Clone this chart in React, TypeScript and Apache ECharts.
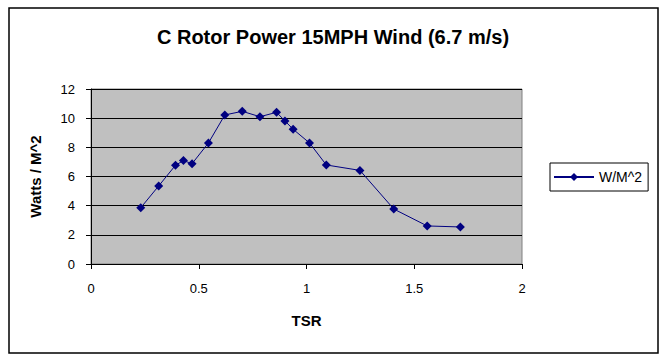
import React, { useEffect, useRef } from "react";
import * as echarts from "echarts";

const tsr = [0.231, 0.314, 0.392, 0.429, 0.469, 0.545, 0.621, 0.702, 0.784, 0.861, 0.9, 0.938, 1.014, 1.092, 1.248, 1.405, 1.56, 1.714];
const power = [3.86, 5.35, 6.77, 7.09, 6.88, 8.3, 10.22, 10.47, 10.1, 10.4, 9.81, 9.24, 8.3, 6.79, 6.42, 3.77, 2.61, 2.54];
const seriesName = "W/M^2";
const titleText = "C Rotor Power 15MPH Wind (6.7 m/s)";
const xName = "TSR";
const yName = "Watts / M^2";

const FONT = "'Liberation Sans', Arial, sans-serif";

export default function App() {
  const ref = useRef<HTMLDivElement>(null);
  useEffect(() => {
    document.body.style.margin = "0";
    if (!ref.current) return;
    const chart = echarts.init(ref.current, null, { renderer: "svg" });
    chart.setOption({
      animation: false,
      backgroundColor: "#ffffff",
      title: {
        text: titleText,
        left: "center",
        top: 22,
        textStyle: { fontFamily: FONT, fontSize: 20, fontWeight: "bold", color: "#000" },
      },
      graphic: [
        {
          type: "rect",
          shape: { x: 9, y: 8, width: 649, height: 345 },
          style: { fill: "none", stroke: "#000", lineWidth: 1.5 },
          silent: true,
        },
      ],
      legend: {
        orient: "vertical",
        left: 550,
        top: 163,
        padding: [7, 6, 7, 3],
        borderColor: "#000",
        borderWidth: 1,
        itemWidth: 40,
        itemHeight: 10,
        itemGap: 0,
        textStyle: { fontFamily: FONT, fontSize: 14, color: "#000" },
        data: [seriesName],
      },
      grid: {
        left: 91,
        top: 89,
        width: 431,
        height: 175,
        show: true,
        backgroundColor: "#c0c0c0",
        borderColor: "#808080",
        borderWidth: 1,
      },
      xAxis: {
        type: "value",
        min: 0,
        max: 2,
        interval: 0.5,
        name: xName,
        nameLocation: "middle",
        nameGap: 49,
        nameTextStyle: { fontFamily: FONT, fontSize: 15, fontWeight: "bold", color: "#000" },
        axisLine: { show: true, lineStyle: { color: "#000", width: 1 } },
        axisTick: { show: true, inside: false, length: 5, lineStyle: { color: "#000" } },
        axisLabel: { fontFamily: FONT, fontSize: 13, color: "#000", margin: 18 },
        splitLine: { show: false },
      },
      yAxis: {
        type: "value",
        min: 0,
        max: 12,
        interval: 2,
        name: yName,
        nameLocation: "middle",
        nameGap: 48,
        nameTextStyle: { fontFamily: FONT, fontSize: 15, fontWeight: "bold", color: "#000" },
        axisLine: { show: true, lineStyle: { color: "#000", width: 1 } },
        axisTick: { show: true, inside: false, length: 5, lineStyle: { color: "#000" } },
        axisLabel: { fontFamily: FONT, fontSize: 13, color: "#000", margin: 16 },
        splitLine: { show: true, lineStyle: { color: "#000", width: 1, type: "solid" } },
      },
      series: [
        {
          name: seriesName,
          type: "line",
          data: tsr.map((x, i) => [x, power[i]]),
          symbol: "diamond",
          symbolSize: 9,
          showAllSymbol: true,
          lineStyle: { color: "#000080", width: 1 },
          itemStyle: { color: "#000080" },
          z: 3,
        },
      ],
    });
    return () => chart.dispose();
  }, []);
  return <div ref={ref} style={{ width: 666, height: 360 }} />;
}
